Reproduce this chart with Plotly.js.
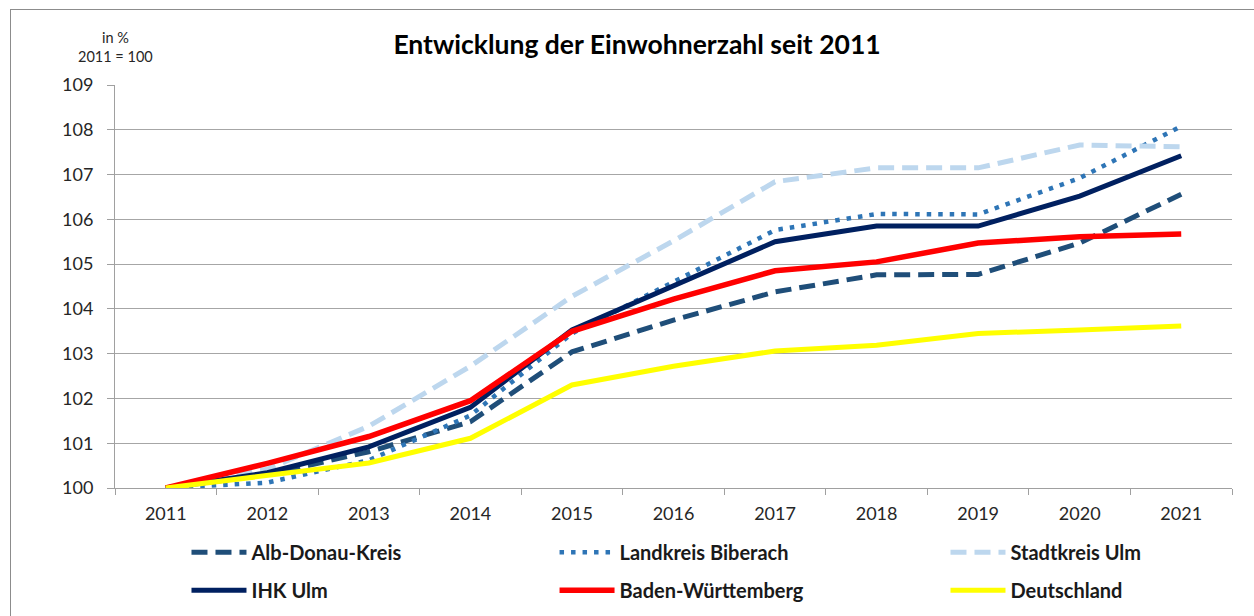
<!DOCTYPE html>
<html>
<head>
<meta charset="utf-8">
<script src="https://cdn.plot.ly/plotly-3.0.1.min.js"></script>
<style>
  html, body { margin: 0; padding: 0; background: #ffffff; }
  #wrap { position: relative; width: 1254px; height: 616px; overflow: hidden; }
  #frame { position: absolute; left: 10px; top: 9px; width: 1300px; height: 700px;
           border-left: 1px solid #8c8c8c; border-top: 1px solid #8c8c8c; pointer-events: none; }
  #chart { position: absolute; left: 0; top: 0; width: 1254px; height: 616px; }
</style>
</head>
<body>
<div id="wrap">
  <div id="chart"></div>
  <div id="frame"></div>
</div>
<script>
const years = ['2011','2012','2013','2014','2015','2016','2017','2018','2019','2020','2021'];

const albDonau   = [100, 100.30, 100.81, 101.48, 103.04, 103.75, 104.38, 104.76, 104.77, 105.47, 106.56];
const biberach   = [100, 100.12, 100.62, 101.62, 103.45, 104.61, 105.76, 106.12, 106.11, 106.92, 108.08];
const stadtUlm   = [100, 100.42, 101.38, 102.72, 104.28, 105.52, 106.84, 107.15, 107.15, 107.66, 107.62];
const ihkUlm     = [100, 100.34, 100.92, 101.80, 103.53, 104.50, 105.50, 105.85, 105.85, 106.52, 107.42];
const bw         = [100, 100.55, 101.15, 101.95, 103.50, 104.22, 104.85, 105.05, 105.47, 105.61, 105.67];
const de         = [100, 100.27, 100.56, 101.11, 102.30, 102.72, 103.06, 103.19, 103.45, 103.53, 103.62];

const names = ['Alb-Donau-Kreis','Landkreis Biberach','Stadtkreis Ulm','IHK Ulm','Baden-Württemberg','Deutschland'];

const FONT = 'Lato, "Open Sans", "DejaVu Sans", sans-serif';

function tr(y, name, color, width, dash, legend, group) {
  return {
    x: years, y: y, name: name, type: 'scatter', mode: 'lines',
    line: {color: color, width: width, dash: dash, shape: 'linear'},
    legend: legend, legendgroup: group, hoverinfo: 'x+y+name'
  };
}

const data = [
  tr(albDonau, names[0], '#1F4E79', 5, '16px,8px', 'legend', 'g1'),
  tr(biberach, names[1], '#2E75B6', 4.5, '4.5px,7px', 'legend2', 'g2'),
  tr(stadtUlm, names[2], '#BDD7EE', 5, '16px,8px', 'legend3', 'g3'),
  tr(ihkUlm,   names[3], '#002060', 5, 'solid', 'legend', 'g4'),
  tr(bw,       names[4], '#FF0000', 5.5, 'solid', 'legend2', 'g5'),
  tr(de,       names[5], '#FFFF00', 5, 'solid', 'legend3', 'g6')
];

const legBase = {
  orientation: 'v', yanchor: 'top', xanchor: 'left', yref: 'container', y: 0.135,
  font: {family: FONT, size: 20, color: '#1a1a1a', weight: 'bold'},
  itemwidth: 55, tracegroupgap: 9, bgcolor: 'rgba(0,0,0,0)', borderwidth: 0,
  itemclick: false, itemdoubleclick: false
};

const layout = {
  width: 1254, height: 616,
  margin: {l: 115, r: 22, t: 85, b: 128, pad: 0},
  paper_bgcolor: 'rgba(0,0,0,0)', plot_bgcolor: '#ffffff',
  font: {family: FONT, size: 18, color: '#262626'},
  title: {
    text: '<b>Entwicklung der Einwohnerzahl seit 2011</b>',
    font: {family: FONT, size: 26.5, color: '#000000'},
    x: 0.508, xanchor: 'center', y: 0.927, yanchor: 'middle'
  },
  xaxis: {
    type: 'category', range: [-0.5, 10.5], tickson: 'boundaries', ticks: 'outside', ticklen: 6,
    tickcolor: '#a0a0a0', showline: true, linecolor: '#a0a0a0', linewidth: 1,
    showgrid: false, ticklabelstandoff: 9,
    tickfont: {family: FONT, size: 18, color: '#262626'},
    fixedrange: true
  },
  yaxis: {
    range: [100, 109], dtick: 1, tick0: 100, ticks: 'outside', ticklen: 7,
    tickcolor: '#a0a0a0', showline: true, linecolor: '#a0a0a0', linewidth: 1,
    showgrid: true, gridcolor: '#a6a6a6', gridwidth: 1, zeroline: false,
    ticklabelstandoff: 10,
    tickfont: {family: FONT, size: 18, color: '#262626'}, fixedrange: true
  },
  showlegend: true,
  legend:  Object.assign({}, legBase, {x: 0.0640}),
  legend2: Object.assign({}, legBase, {x: 0.3935}),
  legend3: Object.assign({}, legBase, {x: 0.7435}),
  annotations: [
    {text: 'in %<br>2011 = 100', xref: 'paper', yref: 'paper', x: 0.0, y: 1.045,
     xanchor: 'center', yanchor: 'bottom', showarrow: false, align: 'center',
     font: {family: FONT, size: 14.5, color: '#262626'}}
  ]
};

Plotly.newPlot('chart', data, layout, {displayModeBar: false, staticPlot: true});
</script>
</body>
</html>
